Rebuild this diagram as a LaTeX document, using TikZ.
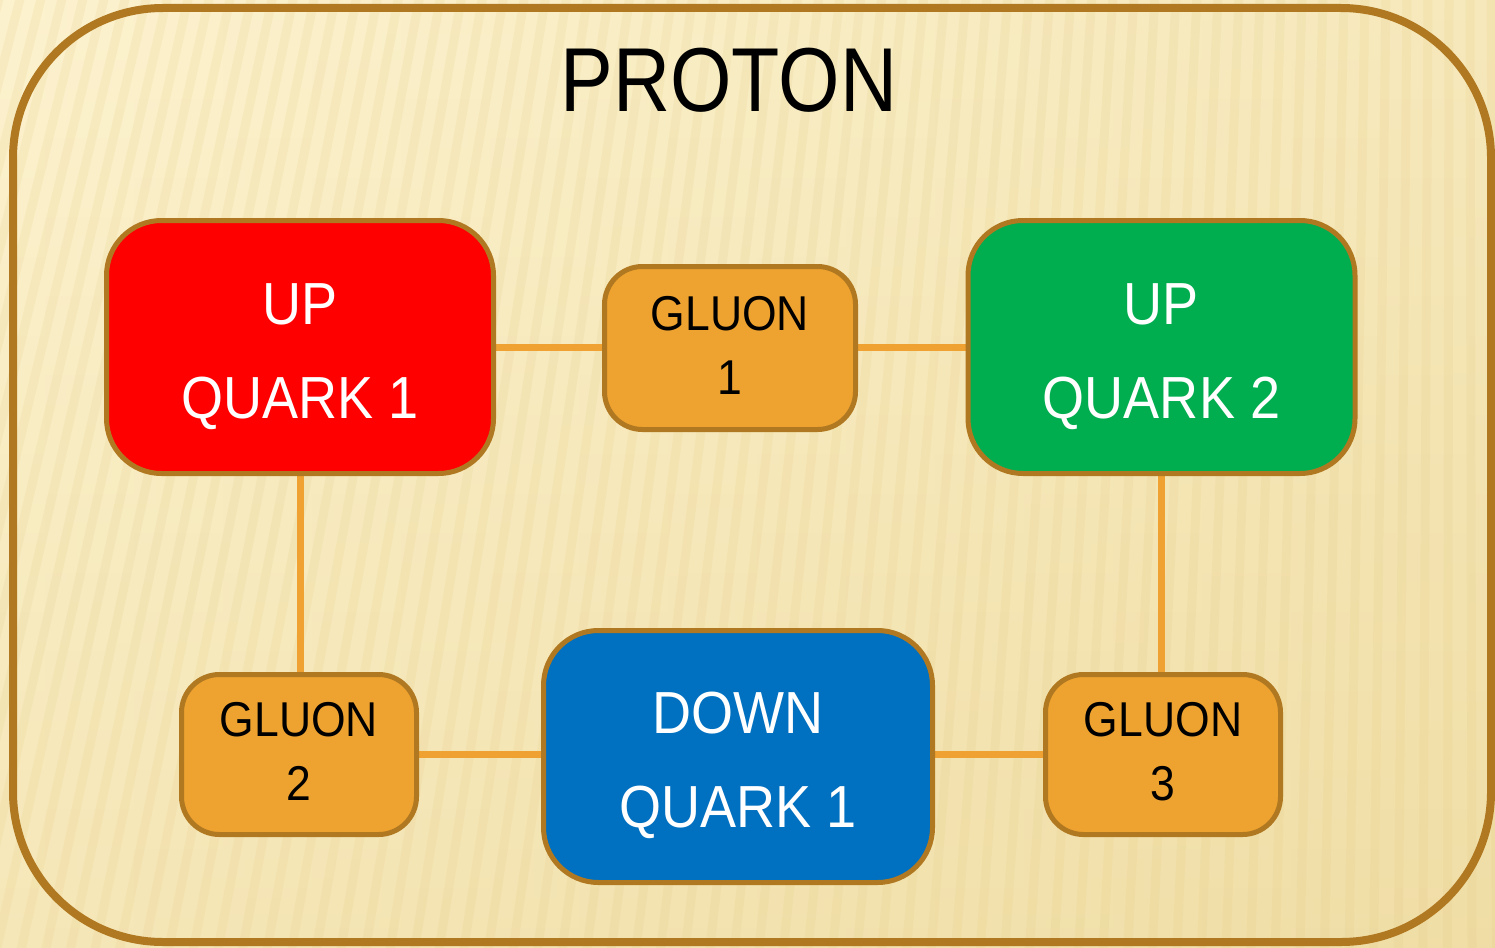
\documentclass[tikz,border=0pt]{standalone}
\usepackage{fontspec}
\setmainfont{Liberation Sans}[FakeStretch=0.91]
\newfontfamily\titlefont{Liberation Sans}[FakeStretch=0.87]

\definecolor{frame}{HTML}{B07820}
\definecolor{gluonfill}{HTML}{EEA230}
\definecolor{linkcol}{HTML}{EFA232}
\definecolor{upred}{HTML}{FF0000}
\definecolor{upgreen}{HTML}{00AE50}
\definecolor{downblue}{HTML}{0070C0}
\definecolor{paperlight}{HTML}{FCF2CE}
\definecolor{paperdark}{HTML}{EEDA9E}
\definecolor{stripe}{HTML}{E2C87C}

\pgfdeclarelayer{paper}
\pgfdeclarelayer{links}
\pgfsetlayers{paper,links,main}

\tikzset{
  box/.style={draw=frame, line width=5pt, inner sep=0pt, align=center},
  quark/.style={box, rounded corners=55pt, minimum width=387pt, minimum height=253pt,
    text=white, font=\fontsize{59.4}{94}\selectfont, text height=146pt, text depth=4pt},
  gluon/.style={box, fill=gluonfill, rounded corners=38pt, minimum height=160pt,
    font=\fontsize{48.9}{64}\selectfont, text height=92pt, text depth=0pt},
  link/.style={draw=linkcol, line width=7pt},
}

\begin{document}
\begin{tikzpicture}[x=1pt, y=-1pt]
\useasboundingbox (0,0) rectangle (1495,947);

% paper background with soft ribbed stripes
\begin{pgfonlayer}{paper}
  \shade[left color=paperlight, right color=paperdark!70!paperlight] (0,0) rectangle (1495,947);
  \shade[top color=paperlight, bottom color=paperdark, opacity=0.45] (0,0) rectangle (1495,947);
  \foreach \i in {-12,...,80} {
    \draw[stripe, line width=9pt, opacity=0.15]
      ({\i*21}, -5) -- ({\i*21 - 250 + \i*3.6}, 952);
  }
  \draw[frame, line width=8pt, rounded corners=150pt] (13,8) rectangle (1491,942);
\end{pgfonlayer}

% title
\node[font=\titlefont\fontsize{90.8}{90.8}\selectfont, anchor=base] (title) at (729,112) {PROTON};

% quarks
\node[quark, fill=upred]    (uq1) at (300,347)    {UP\\QUARK 1};
\node[quark, fill=upgreen]  (uq2) at (1161.5,347) {UP\\QUARK 2};
\node[quark, fill=downblue, minimum width=389pt, minimum height=252pt] (dq) at (738,756.5) {DOWN\\QUARK 1};

% gluons
\node[gluon, minimum width=251pt, minimum height=163pt] (g1) at (730,348) {GLUON\\1};
\node[gluon, minimum width=235pt] (g2) at (299,754.5)  {GLUON\\2};
\node[gluon, minimum width=235pt] (g3) at (1163,754.5) {GLUON\\3};

% gluon exchange lines
\begin{pgfonlayer}{links}
  \draw[link] (uq1.east) -- (uq1.east -| g1.west);
  \draw[link] (g1.east |- uq2.west) -- (uq2.west);
  \draw[link] (uq1.south) -- (uq1.south |- g2.north);
  \draw[link] (uq2.south) -- (uq2.south |- g3.north);
  \draw[link] (g2.east) -- (g2.east -| dq.west);
  \draw[link] (dq.east |- g3.west) -- (g3.west);
\end{pgfonlayer}
\end{tikzpicture}
\end{document}
